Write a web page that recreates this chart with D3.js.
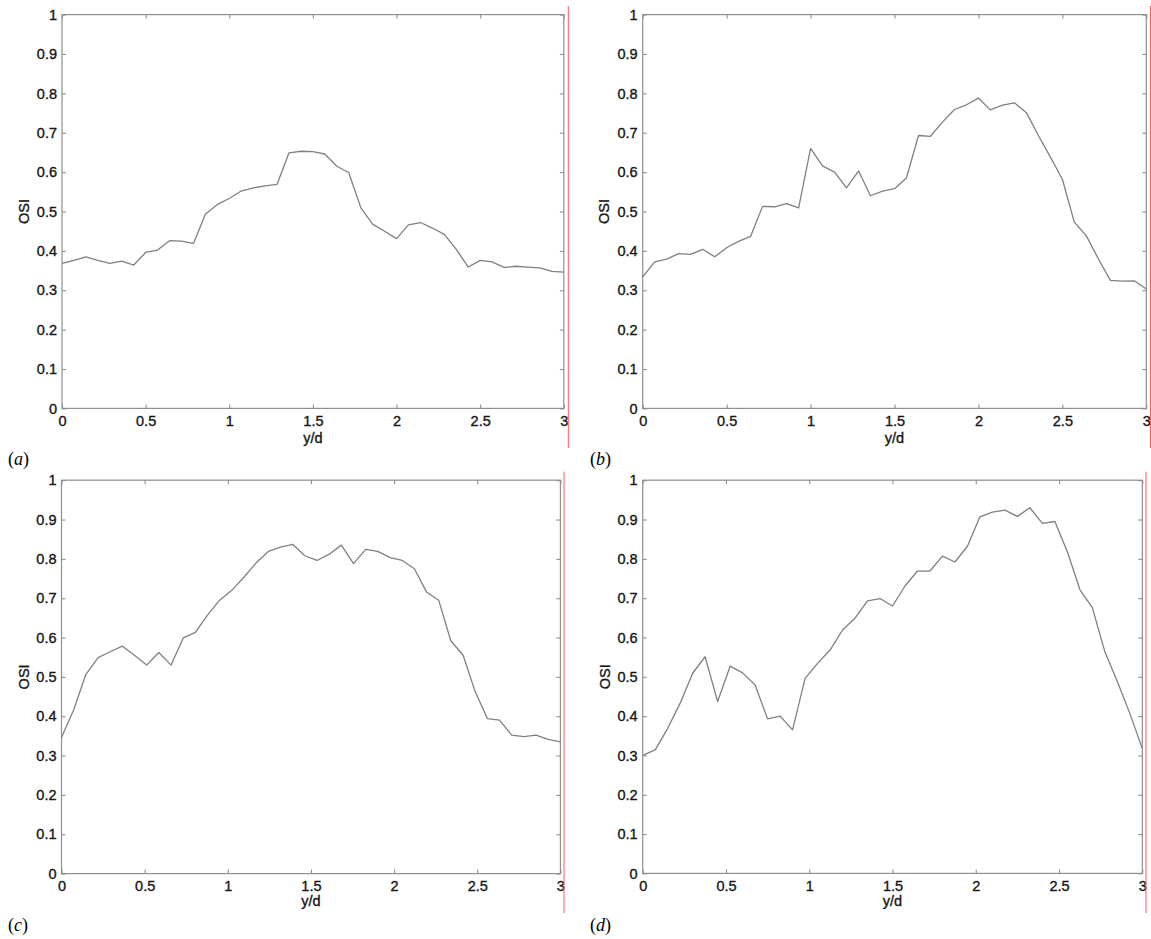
<!DOCTYPE html>
<html>
<head>
<meta charset="utf-8">
<script src="https://cdn.jsdelivr.net/npm/d3@7"></script>
<style>
  html, body { margin: 0; padding: 0; background: #ffffff; }
  svg { display: block; }
</style>
</head>
<body>
<svg id="chart" width="1151" height="939"></svg>
<script>
// ---------------- DATA ----------------
const xTicks = [0, 0.5, 1, 1.5, 2, 2.5, 3];
const xTickLabels = ["0", "0.5", "1", "1.5", "2", "2.5", "3"];
const yTicks = [0, 0.1, 0.2, 0.3, 0.4, 0.5, 0.6, 0.7, 0.8, 0.9, 1];
const yTickLabels = ["0", "0.1", "0.2", "0.3", "0.4", "0.5", "0.6", "0.7", "0.8", "0.9", "1"];
const xLabel = "y/d";
const yLabel = "OSI";
const panelLabels = ["a", "b", "c", "d"];

const ydA = [0, 0.071, 0.143, 0.214, 0.286, 0.357, 0.429, 0.5, 0.571, 0.643, 0.714, 0.786, 0.857, 0.929, 1,
  1.071, 1.143, 1.214, 1.286, 1.357, 1.429, 1.5, 1.571, 1.643, 1.714, 1.786, 1.857, 1.929, 2,
  2.071, 2.143, 2.214, 2.286, 2.357, 2.429, 2.5, 2.571, 2.643, 2.714, 2.786, 2.857, 2.929, 3];
const osiA = [0.368, 0.376, 0.385, 0.376, 0.368, 0.374, 0.364, 0.396, 0.402, 0.426, 0.425, 0.419, 0.493, 0.518, 0.533,
  0.552, 0.560, 0.565, 0.569, 0.649, 0.653, 0.652, 0.646, 0.615, 0.599, 0.510, 0.468, 0.450, 0.431,
  0.466, 0.472, 0.458, 0.442, 0.404, 0.359, 0.376, 0.372, 0.358, 0.361, 0.359, 0.357, 0.348, 0.346];

const ydB = ydA;
const osiB = [0.334, 0.372, 0.379, 0.393, 0.391, 0.404, 0.385, 0.408, 0.424, 0.437, 0.513, 0.512, 0.520, 0.509, 0.660,
  0.616, 0.600, 0.560, 0.603, 0.540, 0.552, 0.558, 0.585, 0.693, 0.691, 0.727, 0.759, 0.771, 0.788,
  0.758, 0.770, 0.776, 0.751, 0.693, 0.638, 0.582, 0.473, 0.438, 0.380, 0.325, 0.323, 0.324, 0.303];

const ydC = [0, 0.073, 0.146, 0.22, 0.293, 0.366, 0.439, 0.512, 0.585, 0.659, 0.732, 0.805, 0.878, 0.951, 1.024,
  1.098, 1.171, 1.244, 1.317, 1.39, 1.463, 1.537, 1.61, 1.683, 1.756, 1.829, 1.902, 1.976, 2.049,
  2.122, 2.195, 2.268, 2.341, 2.415, 2.488, 2.561, 2.634, 2.707, 2.78, 2.854, 2.927, 3];
const osiC = [0.346, 0.416, 0.506, 0.549, 0.564, 0.578, 0.555, 0.530, 0.562, 0.530, 0.599, 0.613, 0.657, 0.695, 0.720,
  0.754, 0.790, 0.819, 0.830, 0.837, 0.808, 0.796, 0.812, 0.835, 0.788, 0.824, 0.819, 0.803, 0.796,
  0.775, 0.716, 0.695, 0.592, 0.555, 0.462, 0.394, 0.390, 0.352, 0.348, 0.352, 0.341, 0.335];

const ydD = [0, 0.075, 0.15, 0.225, 0.3, 0.375, 0.45, 0.525, 0.6, 0.675, 0.75, 0.825, 0.9, 0.975, 1.05,
  1.125, 1.2, 1.275, 1.35, 1.425, 1.5, 1.575, 1.65, 1.725, 1.8, 1.875, 1.95, 2.025, 2.1,
  2.175, 2.25, 2.325, 2.4, 2.475, 2.55, 2.625, 2.7, 2.775, 2.85, 2.925, 3];
const osiD = [0.300, 0.314, 0.369, 0.433, 0.509, 0.551, 0.437, 0.527, 0.510, 0.479, 0.393, 0.400, 0.365, 0.496, 0.534,
  0.568, 0.619, 0.649, 0.693, 0.699, 0.680, 0.731, 0.769, 0.769, 0.807, 0.792, 0.832, 0.907, 0.919,
  0.924, 0.908, 0.930, 0.890, 0.895, 0.818, 0.722, 0.676, 0.564, 0.488, 0.407, 0.318];

// ---------------- LAYOUT ----------------
const layouts = [
  { left: 62,    right: 563.8,  top: 14.6,  bottom: 408.4, red: 568.3, redTop: 6,     redBot: 448, yLabX: 23.5,  labBase: 443, panX: 8,   panBase: 465 },
  { left: 642.7, right: 1146.3, top: 14.6,  bottom: 408.4, red: 1150.5, redTop: 6,    redBot: 448, yLabX: 604,   labBase: 443, panX: 590, panBase: 465 },
  { left: 61.5,  right: 560.4,  top: 480.2, bottom: 873.6, red: 564,   redTop: 471.7, redBot: 913, yLabX: 23.5,  labBase: 906, panX: 8,   panBase: 931 },
  { left: 642.7, right: 1142.3, top: 480.2, bottom: 873.4, red: 1146,  redTop: 471.7, redBot: 913, yLabX: 604.5, labBase: 906, panX: 590, panBase: 931 }
];
const series = [[ydA, osiA], [ydB, osiB], [ydC, osiC], [ydD, osiD]];

const svg = d3.select("#chart");
const frameColor = "#8f8f8f";
const lineColor = "#808080";
const textColor = "#151515";
const tickFont = "'Liberation Sans', Arial, sans-serif";

function styleText(sel) {
  sel.attr("fill", textColor)
    .attr("stroke", textColor)
    .attr("stroke-width", 0.35)
    .style("font-family", tickFont)
    .style("font-size", "14.5px");
}

layouts.forEach((L, i) => {
  const x = d3.scaleLinear().domain([0, 3]).range([L.left, L.right]);
  const y = d3.scaleLinear().domain([0, 1]).range([L.bottom, L.top]);
  const g = svg.append("g");

  // frame
  g.append("rect")
    .attr("x", L.left).attr("y", L.top)
    .attr("width", L.right - L.left).attr("height", L.bottom - L.top)
    .attr("fill", "none").attr("stroke", frameColor).attr("stroke-width", 1.2);

  const styleAxis = (sel, withText) => {
    sel.select(".domain").remove();
    sel.selectAll(".tick line").attr("stroke", frameColor).attr("stroke-width", 1.1);
    if (withText) {
      sel.selectAll(".tick text").call(styleText);
    } else {
      sel.selectAll(".tick text").remove();
    }
  };

  // left axis with labels
  g.append("g").attr("transform", `translate(${L.left},0)`)
    .call(d3.axisLeft(y).tickValues(yTicks).tickSize(-4).tickPadding(5)
      .tickFormat((d, k) => yTickLabels[k]))
    .call(s => styleAxis(s, true));
  // right axis ticks
  g.append("g").attr("transform", `translate(${L.right},0)`)
    .call(d3.axisRight(y).tickValues(yTicks).tickSize(-4))
    .call(s => styleAxis(s, false));
  // bottom axis with labels
  g.append("g").attr("transform", `translate(0,${L.bottom})`)
    .call(d3.axisBottom(x).tickValues(xTicks).tickSize(-4).tickPadding(7)
      .tickFormat((d, k) => xTickLabels[k]))
    .call(s => styleAxis(s, true));
  // top axis ticks
  g.append("g").attr("transform", `translate(0,${L.top})`)
    .call(d3.axisTop(x).tickValues(xTicks).tickSize(-4))
    .call(s => styleAxis(s, false));

  // data line
  const [xs, ys] = series[i];
  const pts = xs.map((v, k) => [v, ys[k]]);
  g.append("path")
    .datum(pts)
    .attr("fill", "none")
    .attr("stroke", lineColor)
    .attr("stroke-width", 1.3)
    .attr("stroke-linejoin", "round")
    .attr("d", d3.line().x(d => x(d[0])).y(d => y(d[1])));

  // axis labels
  g.append("text")
    .attr("x", (L.left + L.right) / 2).attr("y", L.labBase)
    .attr("text-anchor", "middle")
    .call(styleText)
    .text(xLabel);
  const yc = (L.top + L.bottom) / 2;
  g.append("text")
    .attr("transform", `translate(${L.yLabX + 5},${yc}) rotate(-90)`)
    .attr("text-anchor", "middle")
    .call(styleText)
    .text(yLabel);

  // panel label
  const pl = g.append("text")
    .attr("x", L.panX).attr("y", L.panBase)
    .attr("fill", "#000")
    .style("font-family", "'Liberation Serif', 'Times New Roman', serif")
    .style("font-size", "18px");
  pl.append("tspan").text("(");
  pl.append("tspan").style("font-style", "italic").text(panelLabels[i]);
  pl.append("tspan").text(")");

  // red vertical line at right
  g.append("line")
    .attr("x1", L.red).attr("x2", L.red)
    .attr("y1", L.redTop).attr("y2", L.redBot)
    .attr("stroke", "#ff5a5a").attr("stroke-width", 1);
});
</script>
</body>
</html>
